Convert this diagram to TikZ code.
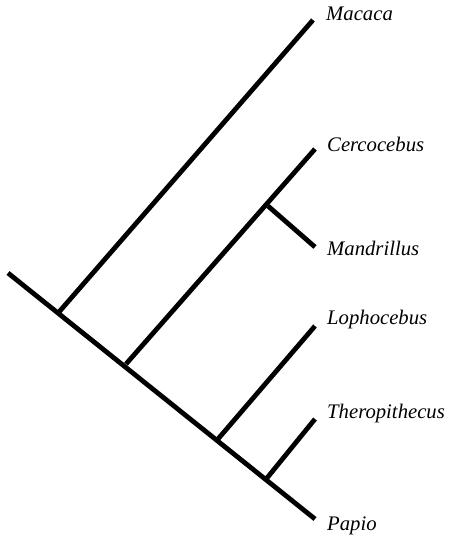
\documentclass[tikz,border=0pt]{standalone}
\usepackage{fontspec}
\setmainfont{Liberation Serif}
\begin{document}
\begin{tikzpicture}[x=1pt,y=-1pt,
  br/.style={line width=4.8pt},
  taxon/.style={anchor=base west,inner sep=0pt,font=\fontsize{20.7}{24}\selectfont\itshape}]
\useasboundingbox (0,0) rectangle (449,535);
% nodes
\coordinate (root) at (8,273);
\coordinate (n1) at (59,312);
\coordinate (n2) at (126,364);
\coordinate (n3) at (268,206);
\coordinate (n4) at (218,439);
\coordinate (n5) at (267,478);
\coordinate (tMac) at (313,20);
\coordinate (tCer) at (315,149);
\coordinate (tMan) at (315,247);
\coordinate (tLop) at (315,326);
\coordinate (tThe) at (315,419);
\coordinate (tPap) at (315,519);
% branches
\draw[br] (root) -- (tPap);
\draw[br] (n1) -- (tMac);
\draw[br] (n2) -- (tCer);
\draw[br] (n3) -- (tMan);
\draw[br] (n4) -- (tLop);
\draw[br] (n5) -- (tThe);
% labels
\node[taxon] (lMac) at (326,21) {Macaca};
\node[taxon] (lCer) at (327,151) {Cercocebus};
\node[taxon] (lMan) at (327,255) {Mandrillus};
\node[taxon] (lLop) at (327,324) {Lophocebus};
\node[taxon] (lThe) at (327,418) {Theropithecus};
\node[taxon] (lPap) at (327,530) {Papio};
\end{tikzpicture}
\end{document}
